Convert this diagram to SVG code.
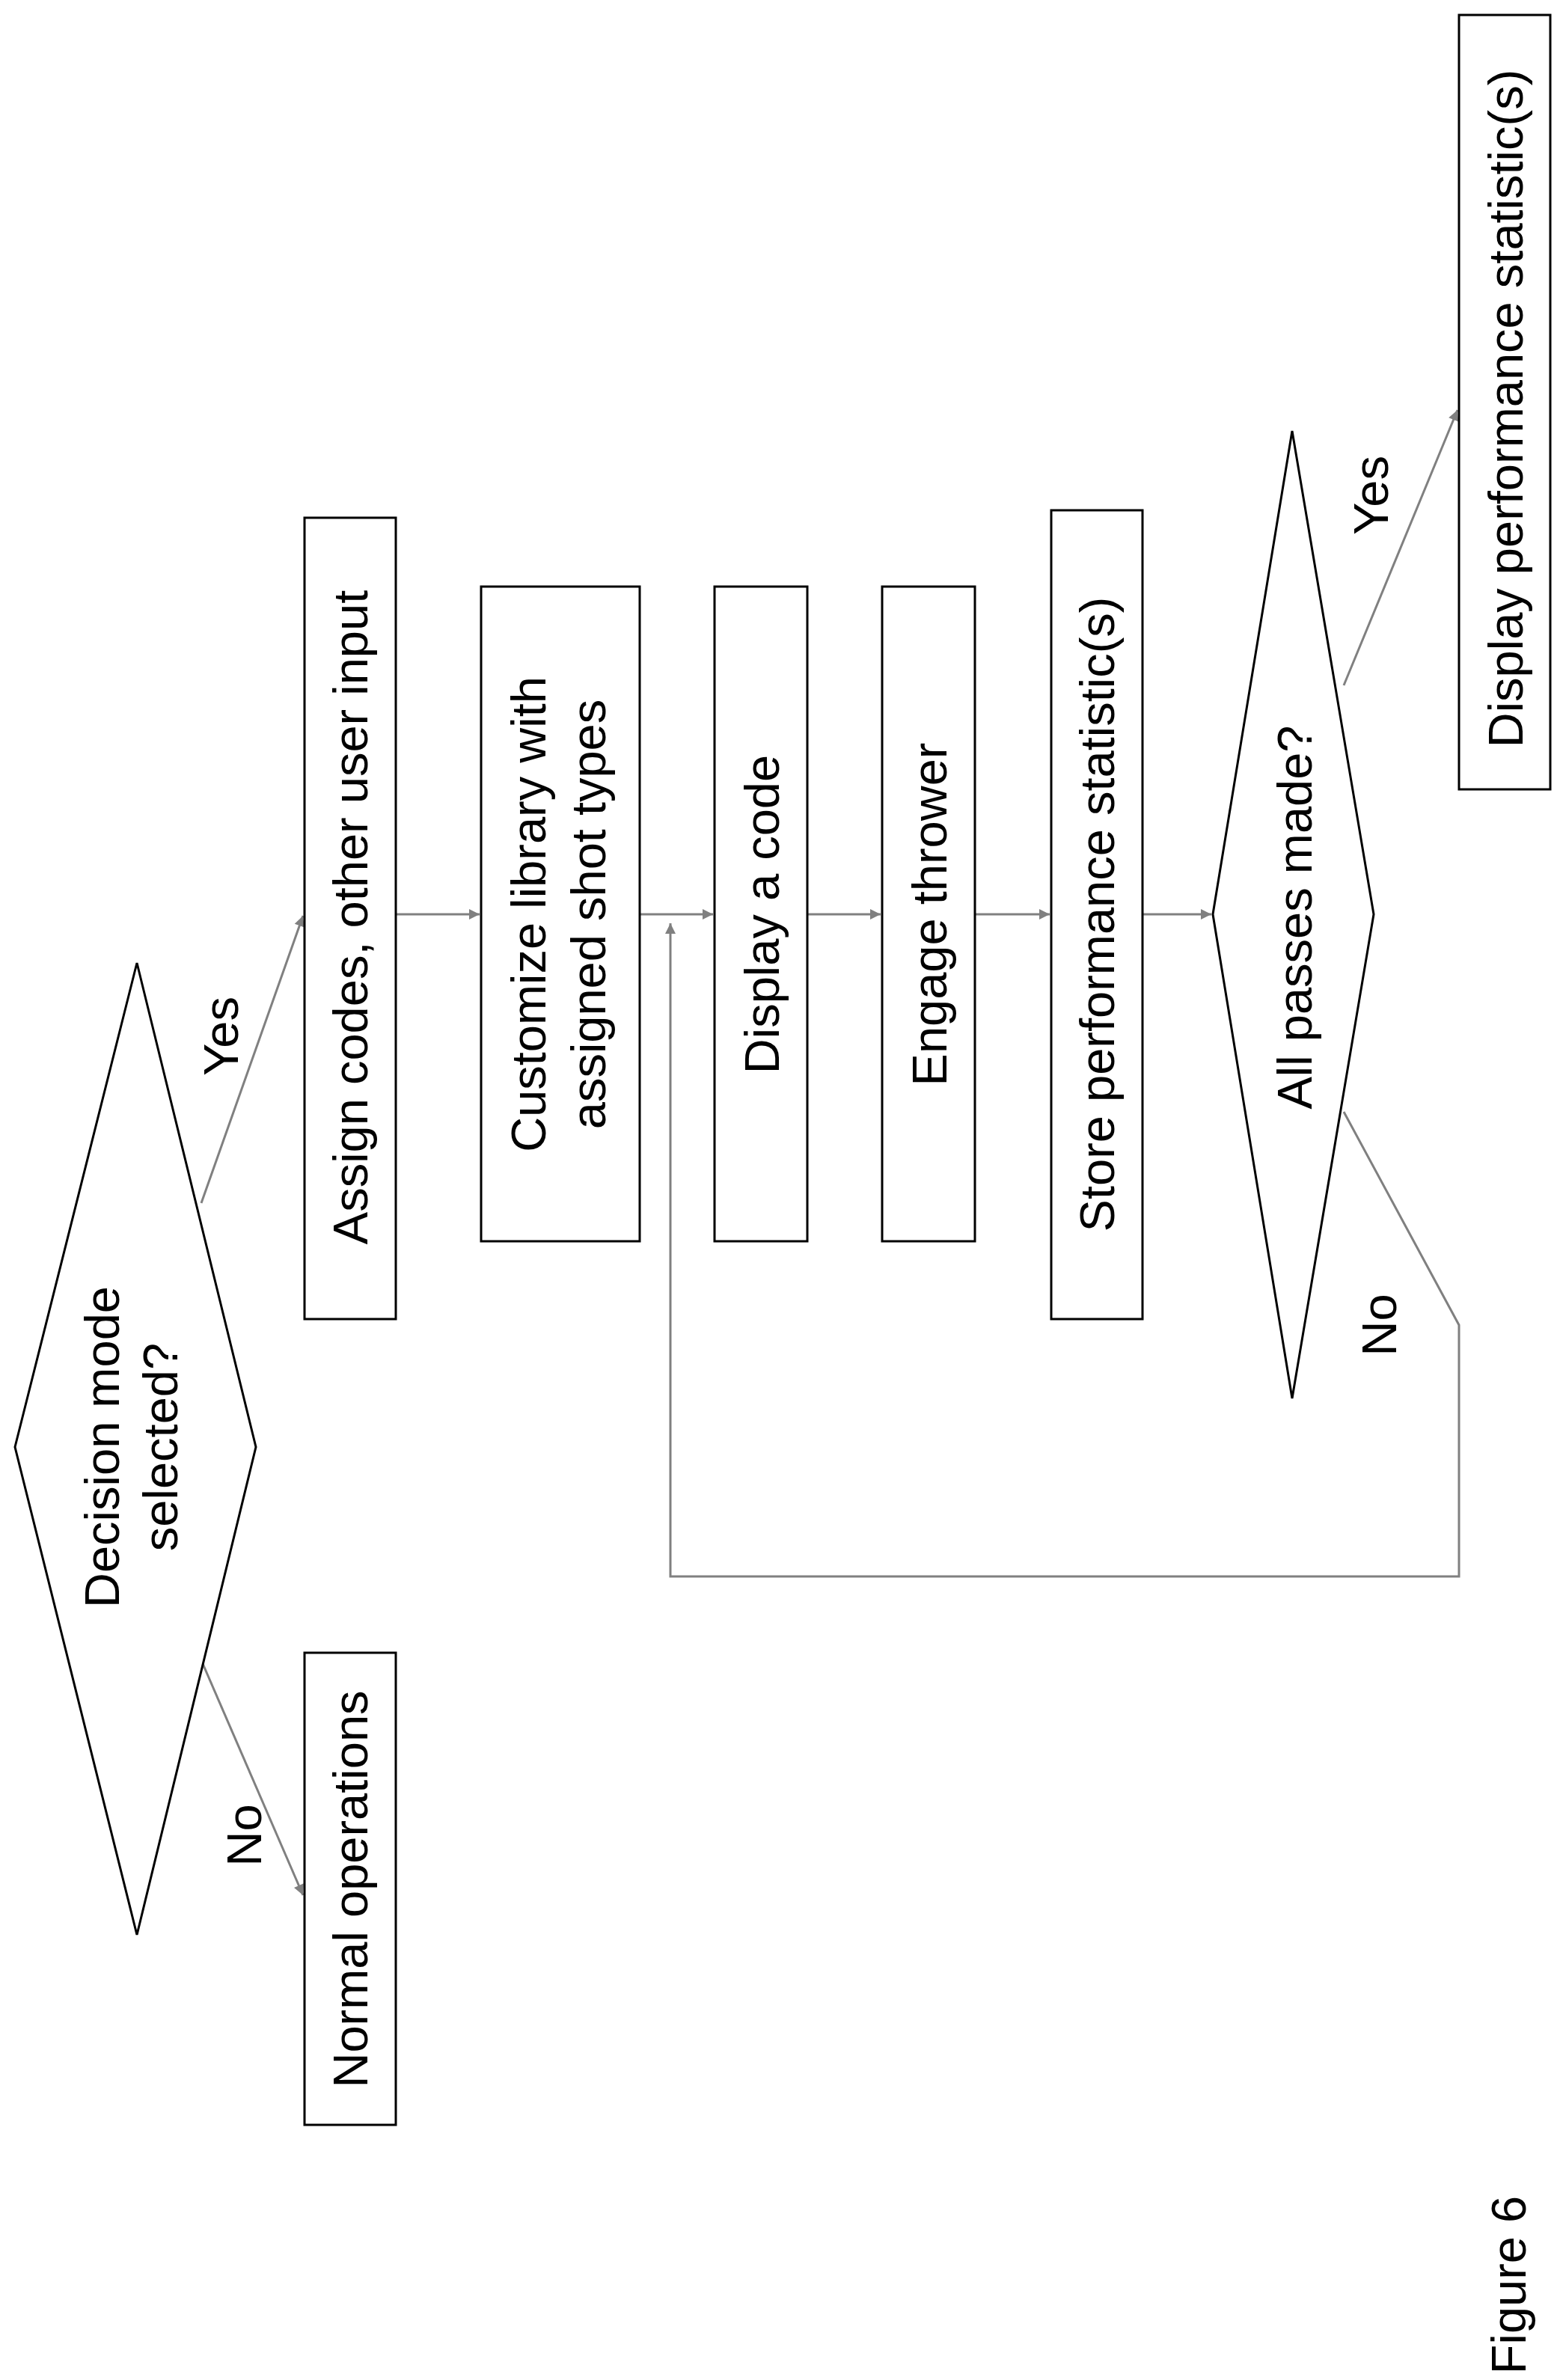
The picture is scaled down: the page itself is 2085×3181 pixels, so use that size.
<svg xmlns="http://www.w3.org/2000/svg" width="2085" height="3181" viewBox="0 0 2085 3181">
<style>
.n{fill:#fff;stroke:#000;stroke-width:3}
.t{font-family:"Liberation Sans",Arial,sans-serif;font-size:65px;fill:#000;text-anchor:middle;dominant-baseline:central}
.c{fill:none;stroke:#808080;stroke-width:3}
</style>
<defs><marker id="a" viewBox="0 0 10 10" refX="10" refY="5" markerWidth="7" markerHeight="7" orient="auto" markerUnits="userSpaceOnUse" style="overflow:visible"><path d="M0,0L10,5L0,10z" fill="#808080" transform="scale(2) translate(-5,-2.5)"/></marker></defs>
<rect width="2085" height="3181" fill="#fff"/>
<g id="connectors">
<line class="c" x1="269" y1="1608" x2="405" y2="1224" marker-end="url(#a)"/>
<line class="c" x1="269" y1="2219" x2="405" y2="2533" marker-end="url(#a)"/>
<line class="c" x1="529" y1="1222" x2="641" y2="1222" marker-end="url(#a)"/>
<line class="c" x1="855" y1="1222" x2="953" y2="1222" marker-end="url(#a)"/>
<line class="c" x1="1079" y1="1222" x2="1177" y2="1222" marker-end="url(#a)"/>
<line class="c" x1="1303" y1="1222" x2="1403" y2="1222" marker-end="url(#a)"/>
<line class="c" x1="1527" y1="1222" x2="1619" y2="1222" marker-end="url(#a)"/>
<line class="c" x1="1796" y1="916" x2="1948" y2="548" marker-end="url(#a)"/>
<polyline class="c" points="1796,1486 1950,1771 1950,2107 896,2107 896,1234" marker-end="url(#a)"/>
<text class="t" transform="translate(295,1385) rotate(-90)">Yes</text>
<text class="t" transform="translate(326,2453) rotate(-90)">No</text>
<text class="t" transform="translate(1832,662) rotate(-90)">Yes</text>
<text class="t" transform="translate(1843,1771) rotate(-90)">No</text>
</g>
<g id="decision1"><polygon class="n" points="20,1934 183,1287 342,1934 183,2586"/>
<text class="t" transform="translate(136,1934) rotate(-90)">Decision mode</text>
<text class="t" transform="translate(214,1934) rotate(-90)">selected?</text></g>
<g id="normal"><rect class="n" x="407" y="2209" width="122" height="631"/>
<text class="t" transform="translate(468,2525) rotate(-90)">Normal operations</text></g>
<g id="assign"><rect class="n" x="407" y="692" width="122" height="1071"/>
<text class="t" transform="translate(468,1226) rotate(-90)">Assign codes, other user input</text></g>
<g id="customize"><rect class="n" x="643" y="784" width="212" height="875"/>
<text class="t" transform="translate(706,1222) rotate(-90)">Customize library with</text>
<text class="t" transform="translate(786,1222) rotate(-90)">assigned shot types</text></g>
<g id="display"><rect class="n" x="955" y="784" width="124" height="875"/>
<text class="t" transform="translate(1018,1222) rotate(-90)">Display a code</text></g>
<g id="engage"><rect class="n" x="1179" y="784" width="124" height="875"/>
<text class="t" transform="translate(1242,1222) rotate(-90)">Engage thrower</text></g>
<g id="store"><rect class="n" x="1405" y="682" width="122" height="1081"/>
<text class="t" transform="translate(1466,1222) rotate(-90)">Store performance statistic(s)</text></g>
<g id="decision2"><polygon class="n" points="1621,1222 1727,576 1836,1222 1727,1869"/>
<text class="t" transform="translate(1730,1226) rotate(-90)">All passes made?</text></g>
<g id="displayperf"><rect class="n" x="1950" y="20" width="122" height="1035"/>
<text class="t" transform="translate(2012,546) rotate(-90)">Display performance statistic(s)</text></g>
<text class="t" transform="translate(2016,3054) rotate(-90)">Figure 6</text>
</svg>
